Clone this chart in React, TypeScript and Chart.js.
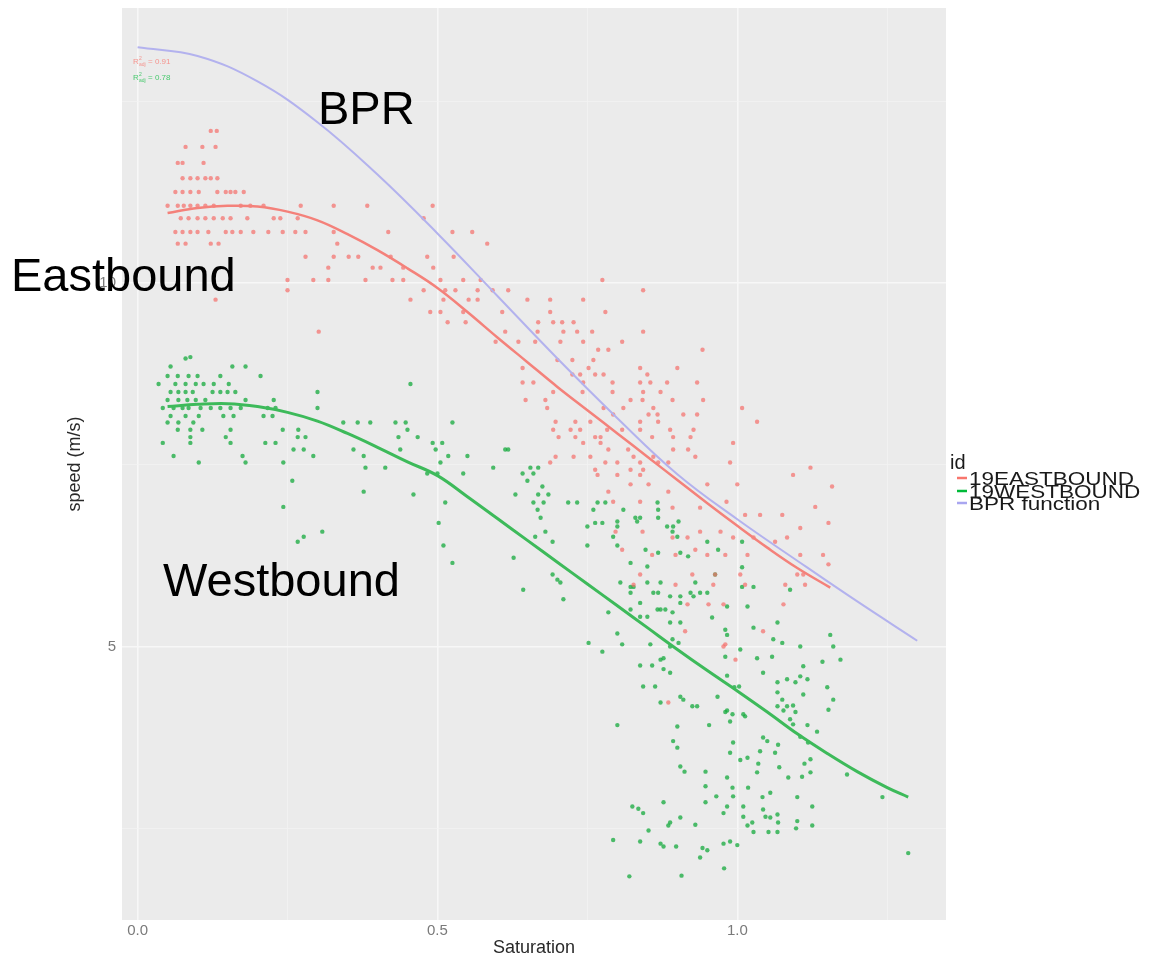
import React, { useEffect, useRef } from 'react';
import { Chart, registerables } from 'chart.js';

Chart.register(...registerables);

// ---------- axes ----------
const xTickValues = [0, 0.25, 0.5, 0.75, 1.0, 1.25];
const xTickLabels = ['0.0', '', '0.5', '', '1.0', ''];
const yTickValues = [2.5, 5, 7.5, 10, 12.5];
const yTickLabels = ['', '5', '', '10', ''];

// ---------- legend ----------
const legendTitle = 'id';
const legendLabels = ['19EASTBOUND', '19WESTBOUND', 'BPR function'];
const legendColors = ['#F8766D', '#00BA38', '#A9A6F0'];

// ---------- fitted curves ----------
const bprSat = [0, 0.1, 0.2, 0.3, 0.4, 0.5, 0.6, 0.7, 0.8, 0.9, 1.0, 1.1, 1.2, 1.3];
const bprSpeed = [13.24, 13.12, 12.77, 12.21, 11.49, 10.68, 9.82, 8.96, 8.14, 7.37, 6.75, 6.18, 5.62, 5.08];

const eastFitSat = [0.05, 0.1, 0.15, 0.2, 0.25, 0.3, 0.35, 0.4, 0.45, 0.5, 0.55, 0.6, 0.65, 0.7, 0.75, 0.8, 0.85, 0.9, 0.95, 1.0, 1.05, 1.1, 1.155];
const eastFitSpeed = [10.96, 11.03, 11.06, 11.05, 10.98, 10.86, 10.67, 10.45, 10.2, 9.93, 9.6, 9.25, 8.91, 8.57, 8.25, 7.93, 7.61, 7.29, 6.97, 6.66, 6.36, 6.08, 5.81];

const westFitSat = [0.05, 0.1, 0.15, 0.2, 0.25, 0.3, 0.35, 0.4, 0.45, 0.5, 0.55, 0.6, 0.65, 0.7, 0.75, 0.8, 0.85, 0.9, 0.95, 1.0, 1.05, 1.1, 1.15, 1.2, 1.25, 1.285];
const westFitSpeed = [8.3, 8.33, 8.34, 8.3, 8.22, 8.1, 7.93, 7.74, 7.54, 7.35, 7.06, 6.76, 6.46, 6.16, 5.86, 5.56, 5.26, 4.96, 4.67, 4.39, 4.1, 3.8, 3.53, 3.28, 3.06, 2.93];

// ---------- observations [saturation, speed] ----------
const eastboundPoints: number[][] = [
  [0.122,12.09],[0.132,12.09],
  [0.080,11.87],[0.108,11.87],[0.130,11.87],
  [0.067,11.65],[0.075,11.65],[0.110,11.65],
  [0.075,11.44],[0.088,11.44],[0.100,11.44],[0.113,11.44],[0.122,11.44],[0.133,11.44],
  [0.063,11.25],[0.075,11.25],[0.088,11.25],[0.102,11.25],[0.133,11.25],[0.147,11.25],[0.155,11.25],[0.163,11.25],[0.177,11.25],
  [0.050,11.06],[0.067,11.06],[0.077,11.06],[0.088,11.06],[0.100,11.06],[0.113,11.06],[0.127,11.06],[0.172,11.06],[0.188,11.06],[0.210,11.06],[0.272,11.06],[0.327,11.06],[0.383,11.06],[0.492,11.06],
  [0.072,10.89],[0.085,10.89],[0.100,10.89],[0.113,10.89],[0.127,10.89],[0.142,10.89],[0.155,10.89],[0.183,10.89],[0.227,10.89],[0.238,10.89],[0.267,10.89],[0.477,10.89],
  [0.063,10.70],[0.075,10.70],[0.088,10.70],[0.100,10.70],[0.118,10.70],[0.147,10.70],[0.158,10.70],[0.172,10.70],[0.193,10.70],[0.218,10.70],[0.242,10.70],[0.263,10.70],[0.280,10.70],[0.327,10.70],[0.418,10.70],[0.525,10.70],[0.558,10.70],
  [0.067,10.54],[0.080,10.54],[0.122,10.54],[0.135,10.54],[0.333,10.54],[0.583,10.54],
  [0.280,10.36],[0.327,10.36],[0.352,10.36],[0.368,10.36],[0.422,10.36],[0.483,10.36],[0.527,10.36],
  [0.318,10.21],[0.392,10.21],[0.405,10.21],[0.443,10.21],[0.493,10.21],
  [0.250,10.04],[0.293,10.04],[0.318,10.04],[0.380,10.04],[0.425,10.04],[0.443,10.04],[0.505,10.04],[0.543,10.04],[0.572,10.04],[0.775,10.04],
  [0.250,9.90],[0.477,9.90],[0.513,9.90],[0.530,9.90],[0.567,9.90],[0.592,9.90],[0.618,9.90],[0.843,9.90],
  [0.130,9.77],[0.455,9.77],[0.510,9.77],[0.552,9.77],[0.567,9.77],[0.650,9.77],[0.688,9.77],[0.743,9.77],
  [0.488,9.60],[0.505,9.60],[0.543,9.60],[0.608,9.60],[0.688,9.60],[0.780,9.60],
  [0.517,9.46],[0.547,9.46],[0.668,9.46],[0.693,9.46],[0.708,9.46],[0.727,9.46],
  [0.302,9.33],[0.613,9.33],[0.667,9.33],[0.710,9.33],[0.733,9.33],[0.758,9.33],[0.843,9.33],
  [0.597,9.19],[0.635,9.19],[0.663,9.19],[0.705,9.19],[0.743,9.19],[0.808,9.19],
  [0.768,9.08],[0.785,9.08],[0.942,9.08],
  [0.700,8.94],[0.725,8.94],[0.760,8.94],
  [0.642,8.83],[0.752,8.83],[0.838,8.83],[0.900,8.83],
  [0.725,8.74],[0.738,8.74],[0.763,8.74],[0.777,8.74],[0.850,8.74],
  [0.642,8.63],[0.660,8.63],[0.743,8.63],[0.792,8.63],[0.838,8.63],[0.855,8.63],[0.883,8.63],[0.933,8.63],
  [0.693,8.50],[0.742,8.50],[0.792,8.50],[0.843,8.50],[0.872,8.50],
  [0.647,8.39],[0.680,8.39],[0.822,8.39],[0.842,8.39],[0.892,8.39],[0.943,8.39],
  [0.683,8.28],[0.777,8.28],[0.810,8.28],[0.860,8.28],[1.008,8.28],
  [0.793,8.19],[0.852,8.19],[0.867,8.19],[0.910,8.19],[0.933,8.19],
  [0.697,8.09],[0.730,8.09],[0.755,8.09],[0.838,8.09],[0.868,8.09],[1.033,8.09],
  [0.693,7.98],[0.722,7.98],[0.738,7.98],[0.783,7.98],[0.808,7.98],[0.838,7.98],[0.888,7.98],[0.927,7.98],
  [0.702,7.88],[0.730,7.88],[0.763,7.88],[0.772,7.88],[0.858,7.88],[0.893,7.88],[0.922,7.88],
  [0.743,7.80],[0.772,7.80],[0.993,7.80],
  [0.785,7.71],[0.818,7.71],[0.893,7.71],[0.918,7.71],
  [0.697,7.61],[0.727,7.61],[0.755,7.61],[0.827,7.61],[0.860,7.61],[0.930,7.61],
  [0.688,7.53],[0.780,7.53],[0.800,7.53],[0.838,7.53],[0.868,7.53],[0.885,7.53],[0.988,7.53],
  [1.122,7.46],
  [0.763,7.43],[0.822,7.43],[0.843,7.43],
  [0.767,7.36],[0.800,7.36],[0.838,7.36],[1.093,7.36],
  [0.822,7.23],[0.852,7.23],[0.950,7.23],[1.000,7.23],[1.158,7.20],
  [0.785,7.13],[0.885,7.13],
  [0.793,6.99],[0.838,6.99],[0.982,6.99],
  [0.892,6.91],[0.938,6.91],[1.130,6.92],
  [1.013,6.81],[1.038,6.81],[1.075,6.81],
  [1.152,6.70],[1.105,6.63],
  [0.797,6.58],[0.842,6.58],[0.938,6.58],[0.972,6.58],
  [0.892,6.50],[0.917,6.50],[0.993,6.50],[1.027,6.50],[1.083,6.50],
  [1.063,6.44],
  [0.808,6.33],[0.930,6.33],
  [0.858,6.26],[0.897,6.26],[0.950,6.26],[0.980,6.26],[1.017,6.26],[1.105,6.26],[1.143,6.26],
  [1.152,6.13],
  [0.838,5.99],[0.925,5.99],[0.963,5.99],[1.005,5.99],[1.100,5.99],[1.110,5.99],
  [0.827,5.85],[0.897,5.85],[0.960,5.85],[1.013,5.85],[1.080,5.85],[1.113,5.85],
  [0.917,5.58],[0.952,5.58],[0.977,5.58],[1.077,5.58],
  [0.913,5.21],[1.043,5.21],
  [0.980,5.03],[0.977,5.00],
  [0.997,4.82],
  [0.885,4.23],
];

const westboundPoints: number[][] = [
  [0.080,8.96],[0.088,8.98],
  [0.055,8.85],[0.158,8.85],[0.180,8.85],
  [0.050,8.72],[0.067,8.72],[0.085,8.72],[0.100,8.72],[0.138,8.72],[0.205,8.72],
  [0.035,8.61],[0.063,8.61],[0.080,8.61],[0.097,8.61],[0.110,8.61],[0.127,8.61],[0.152,8.61],[0.455,8.61],
  [0.055,8.50],[0.068,8.50],[0.080,8.50],[0.092,8.50],[0.125,8.50],[0.138,8.50],[0.150,8.50],[0.163,8.50],[0.300,8.50],
  [0.050,8.39],[0.068,8.39],[0.083,8.39],[0.097,8.39],[0.113,8.39],[0.180,8.39],[0.227,8.39],
  [0.042,8.28],[0.060,8.28],[0.075,8.28],[0.085,8.28],[0.105,8.28],[0.122,8.28],[0.138,8.28],[0.155,8.28],[0.172,8.28],[0.217,8.28],[0.230,8.28],[0.300,8.28],
  [0.055,8.17],[0.080,8.17],[0.102,8.17],[0.143,8.17],[0.160,8.17],[0.210,8.17],[0.225,8.17],
  [0.050,8.08],[0.068,8.08],[0.093,8.08],[0.343,8.08],[0.367,8.08],[0.388,8.08],[0.430,8.08],[0.447,8.08],[0.525,8.08],
  [0.067,7.98],[0.088,7.98],[0.108,7.98],[0.155,7.98],[0.242,7.98],[0.268,7.98],[0.450,7.98],
  [0.088,7.88],[0.147,7.88],[0.267,7.88],[0.280,7.88],[0.435,7.88],[0.467,7.88],
  [0.042,7.80],[0.088,7.80],[0.155,7.80],[0.213,7.80],[0.230,7.80],[0.492,7.80],[0.508,7.80],
  [0.260,7.71],[0.277,7.71],[0.360,7.71],[0.438,7.71],[0.497,7.71],[0.613,7.71],[0.618,7.71],
  [0.060,7.62],[0.175,7.62],[0.293,7.62],[0.377,7.62],[0.518,7.62],[0.550,7.62],
  [0.102,7.53],[0.180,7.53],[0.243,7.53],[0.505,7.53],
  [0.380,7.46],[0.413,7.46],[0.593,7.46],[0.655,7.46],[0.668,7.46],
  [0.483,7.38],[0.500,7.38],[0.543,7.38],[0.642,7.38],[0.660,7.38],
  [0.258,7.28],[0.650,7.28],
  [0.675,7.20],
  [0.377,7.13],
  [0.460,7.09],[0.630,7.09],[0.668,7.09],[0.685,7.09],
  [0.513,6.98],[0.660,6.98],[0.677,6.98],[0.718,6.98],[0.733,6.98],[0.767,6.98],[0.780,6.98],[0.867,6.98],
  [0.243,6.92],
  [0.667,6.88],[0.760,6.88],[0.810,6.88],[0.868,6.88],
  [0.672,6.77],[0.830,6.77],[0.838,6.77],[0.868,6.77],
  [0.800,6.72],[0.833,6.72],[0.902,6.72],
  [0.502,6.70],[0.763,6.70],[0.775,6.70],
  [0.750,6.65],[0.800,6.65],[0.883,6.65],[0.893,6.65],
  [0.308,6.58],[0.680,6.58],[0.892,6.58],
  [0.277,6.51],[0.663,6.51],[0.793,6.51],[0.900,6.51],
  [0.267,6.44],[0.692,6.44],[0.950,6.44],[1.008,6.44],
  [0.510,6.39],[0.750,6.39],[0.800,6.39],
  [0.847,6.33],[0.968,6.33],
  [0.868,6.29],[0.905,6.29],
  [0.918,6.24],
  [0.627,6.22],
  [0.525,6.15],[0.822,6.15],
  [0.850,6.10],[1.008,6.09],
  [0.692,5.99],[0.963,5.99],
  [0.700,5.92],
  [0.705,5.88],[0.805,5.88],[0.850,5.88],[0.872,5.88],[0.930,5.88],
  [0.822,5.82],[0.827,5.82],[1.008,5.82],[1.027,5.82],
  [0.643,5.78],[1.088,5.78],
  [0.822,5.74],[0.860,5.74],[0.868,5.74],[0.922,5.74],[0.938,5.74],[0.950,5.74],
  [0.888,5.69],[0.905,5.69],[0.927,5.69],
  [0.710,5.65],
  [0.838,5.60],[0.905,5.60],
  [0.983,5.55],[1.017,5.55],
  [0.822,5.51],[0.867,5.51],[0.872,5.51],[0.880,5.51],
  [0.785,5.47],[0.892,5.47],
  [0.838,5.41],[0.850,5.41],
  [0.958,5.40],
  [0.888,5.33],[0.905,5.33],[1.067,5.33],
  [1.027,5.26],
  [0.980,5.23],
  [0.800,5.18],
  [0.983,5.16],[1.155,5.16],
  [0.892,5.10],[1.060,5.10],
  [0.752,5.05],[0.902,5.05],[1.075,5.05],
  [0.808,5.03],[0.855,5.03],
  [0.888,5.00],[1.105,5.00],[1.160,5.00],
  [1.005,4.96],
  [0.775,4.93],
  [0.980,4.86],[1.058,4.86],
  [0.877,4.84],[1.033,4.84],
  [0.872,4.82],[1.172,4.82],
  [1.142,4.79],
  [0.838,4.74],[0.858,4.74],
  [1.110,4.73],
  [0.877,4.69],
  [0.888,4.64],[1.043,4.64],
  [0.983,4.60],
  [1.105,4.59],
  [1.083,4.55],[1.117,4.55],
  [1.067,4.51],[1.097,4.51],
  [0.843,4.45],[0.863,4.45],[1.003,4.45],
  [0.995,4.44],[1.150,4.44],
  [1.067,4.37],
  [1.110,4.34],
  [0.905,4.31],[0.967,4.31],
  [0.910,4.27],[1.075,4.27],[1.160,4.27],
  [0.872,4.23],
  [1.093,4.19],
  [0.925,4.18],[0.933,4.18],[1.067,4.18],[1.083,4.18],
  [1.152,4.13],
  [0.983,4.12],[1.077,4.12],
  [0.980,4.10],[1.097,4.10],
  [1.010,4.07],[0.992,4.07],
  [1.013,4.04],
  [1.088,4.00],
  [0.988,3.97],
  [1.093,3.93],
  [0.800,3.92],[0.953,3.92],[1.117,3.92],
  [0.900,3.90],
  [1.133,3.83],
  [1.105,3.76],
  [1.043,3.75],
  [0.893,3.70],[1.050,3.70],
  [0.993,3.68],[1.118,3.68],
  [1.068,3.65],
  [0.900,3.61],
  [0.988,3.54],[1.063,3.54],
  [1.038,3.56],
  [1.017,3.47],
  [1.122,3.45],
  [1.005,3.44],
  [1.035,3.39],[1.112,3.39],
  [0.905,3.35],
  [1.070,3.34],
  [0.912,3.28],[0.947,3.28],
  [1.033,3.27],[1.122,3.27],
  [1.183,3.24],
  [1.108,3.21],
  [0.983,3.20],[1.085,3.20],
  [0.947,3.08],
  [0.992,3.06],[1.018,3.06],
  [1.055,2.99],
  [0.965,2.94],[0.993,2.94],
  [1.042,2.93],[1.100,2.93],[1.242,2.93],
  [0.877,2.86],[0.947,2.86],
  [0.825,2.80],[0.983,2.80],[1.010,2.80],[1.125,2.80],
  [0.835,2.77],
  [1.043,2.76],
  [0.843,2.71],[0.977,2.71],
  [1.010,2.66],[1.047,2.66],
  [0.905,2.65],[1.055,2.65],
  [1.067,2.69],
  [1.100,2.60],
  [0.888,2.58],[1.025,2.58],[1.068,2.58],
  [0.930,2.55],
  [0.885,2.54],[1.017,2.54],[1.125,2.54],
  [1.098,2.50],
  [0.852,2.47],
  [1.027,2.45],[1.052,2.45],[1.067,2.45],
  [0.793,2.34],
  [0.838,2.32],[0.988,2.32],
  [0.872,2.29],[0.977,2.29],
  [1.000,2.27],
  [0.877,2.25],[0.898,2.25],
  [0.942,2.23],
  [0.950,2.20],
  [1.285,2.16],
  [0.938,2.10],
  [0.978,1.95],
  [0.907,1.85],
  [0.820,1.84],
];

const FONT = '"Liberation Sans", Arial, Helvetica, sans-serif';

const toXY = (xs: number[], ys: number[]) => xs.map((x, i) => ({ x, y: ys[i] }));
const pairsToXY = (pts: number[][]) => pts.map(([x, y]) => ({ x, y }));

const panelPlugin = {
  id: 'panelBg',
  beforeDraw(chart: any) {
    const { ctx, chartArea } = chart;
    ctx.save();
    ctx.fillStyle = '#EBEBEB';
    ctx.fillRect(chartArea.left, chartArea.top, chartArea.right - chartArea.left, chartArea.bottom - chartArea.top);
    ctx.restore();
  },
};

const overlayPlugin = {
  id: 'overlay',
  afterDraw(chart: any) {
    const ctx = chart.ctx as CanvasRenderingContext2D;
    ctx.save();
    // R² annotations
    const drawR2 = (y: number, color: string, val: string) => {
      ctx.fillStyle = color;
      ctx.textBaseline = 'alphabetic';
      ctx.textAlign = 'left';
      ctx.font = `8px ${FONT}`;
      ctx.fillText('R', 133, y);
      ctx.font = `5px ${FONT}`;
      ctx.fillText('2', 139, y - 4);
      ctx.fillText('adj', 139, y + 2);
      ctx.font = `8px ${FONT}`;
      ctx.fillText(val, 148, y);
    };
    drawR2(64, 'rgba(248,118,109,0.75)', '= 0.91');
    drawR2(80, 'rgba(0,186,56,0.7)', '= 0.78');

    // legend
    ctx.textAlign = 'left';
    ctx.textBaseline = 'alphabetic';
    ctx.fillStyle = '#1a1a1a';
    ctx.font = `20px ${FONT}`;
    ctx.fillText(legendTitle, 950, 469);
    const rows = [478, 491, 503];
    legendLabels.forEach((lab, i) => {
      ctx.strokeStyle = legendColors[i];
      ctx.lineWidth = 2.5;
      ctx.beginPath();
      ctx.moveTo(957, rows[i]);
      ctx.lineTo(967, rows[i]);
      ctx.stroke();
      ctx.save();
      ctx.fillStyle = '#1a1a1a';
      ctx.font = `18px ${FONT}`;
      ctx.translate(969, rows[i] + 6.5);
      ctx.scale(1.25, 1);
      ctx.fillText(lab, 0, 0);
      ctx.restore();
    });

    // slide annotations
    ctx.fillStyle = '#000000';
    ctx.font = `47px ${FONT}`;
    ctx.fillText('BPR', 318, 124);
    ctx.fillText('Eastbound', 11, 291);
    ctx.fillText('Westbound', 163, 596);
    ctx.restore();
  },
};

export default function App() {
  const canvasRef = useRef<HTMLCanvasElement | null>(null);

  useEffect(() => {
    const canvas = canvasRef.current;
    if (!canvas) return;
    const gridColor = (major: boolean) => (major ? '#F7F7F7' : '#F2F2F2');
    const chart = new Chart(canvas, {
      type: 'scatter',
      data: {
        datasets: [
          {
            label: 'BPR function',
            data: toXY(bprSat, bprSpeed),
            showLine: true,
            borderColor: '#B3B2EE',
            borderWidth: 2,
            pointRadius: 0,
            tension: 0.4,
            order: 0,
          },
          {
            label: '19EASTBOUND fit',
            data: toXY(eastFitSat, eastFitSpeed),
            showLine: true,
            borderColor: '#F4817A',
            borderWidth: 2.5,
            pointRadius: 0,
            tension: 0.4,
            order: 0,
          },
          {
            label: '19WESTBOUND fit',
            data: toXY(westFitSat, westFitSpeed),
            showLine: true,
            borderColor: '#3DBA5A',
            borderWidth: 3,
            pointRadius: 0,
            tension: 0.4,
            order: 0,
          },
          {
            label: '19EASTBOUND',
            data: pairsToXY(eastboundPoints),
            backgroundColor: 'rgba(245,110,105,0.7)',
            borderWidth: 0,
            pointRadius: 2.2,
            order: 1,
          },
          {
            label: '19WESTBOUND',
            data: pairsToXY(westboundPoints),
            backgroundColor: 'rgba(20,170,60,0.75)',
            borderWidth: 0,
            pointRadius: 2.2,
            order: 1,
          },
        ],
      },
      options: {
        animation: false,
        responsive: false,
        maintainAspectRatio: false,
        layout: { padding: { top: 8, right: 214, left: 0, bottom: 0 } },
        plugins: { legend: { display: false }, tooltip: { enabled: false } },
        scales: {
          x: {
            type: 'linear',
            min: -0.026,
            max: 1.348,
            afterBuildTicks: (s: any) => {
              s.ticks = xTickValues.map((v) => ({ value: v }));
            },
            afterFit: (s: any) => {
              s.height = 51;
              s.paddingLeft = 0;
              s.paddingRight = 0;
            },
            ticks: {
              callback: (_v: any, i: number) => xTickLabels[i],
              color: '#7a7a7a',
              font: { size: 15, family: FONT },
              padding: 2,
              maxRotation: 0,
              autoSkip: false,
            },
            grid: {
              color: (c: any) => gridColor(c.index % 2 === 0),
              lineWidth: (c: any) => (c.index % 2 === 0 ? 1.6 : 0.8),
              drawTicks: false,
            },
            border: { display: false },
            title: {
              display: true,
              text: 'Saturation',
              color: '#2a2a2a',
              font: { size: 18, family: FONT },
              padding: { top: 0, bottom: 12 },
            },
          },
          y: {
            type: 'linear',
            min: 1.24,
            max: 13.78,
            afterBuildTicks: (s: any) => {
              s.ticks = yTickValues.map((v) => ({ value: v }));
            },
            afterFit: (s: any) => {
              s.width = 122;
              s.paddingTop = 0;
              s.paddingBottom = 0;
            },
            ticks: {
              callback: (_v: any, i: number) => yTickLabels[i],
              color: '#7a7a7a',
              font: { size: 15, family: FONT },
              padding: 6,
              autoSkip: false,
            },
            grid: {
              color: (c: any) => gridColor(c.index % 2 === 1),
              lineWidth: (c: any) => (c.index % 2 === 1 ? 1.6 : 0.8),
              drawTicks: false,
            },
            border: { display: false },
            title: {
              display: true,
              text: 'speed (m/s)',
              color: '#2a2a2a',
              font: { size: 18, family: FONT },
              padding: { top: 64, bottom: 0 },
            },
          },
        },
      },
      plugins: [panelPlugin, overlayPlugin],
    } as any);
    return () => chart.destroy();
  }, []);

  return (
    <div style={{ position: 'absolute', left: 0, top: 0, width: 1160, height: 971, background: '#ffffff' }}>
      <canvas ref={canvasRef} width={1160} height={971} />
    </div>
  );
}
